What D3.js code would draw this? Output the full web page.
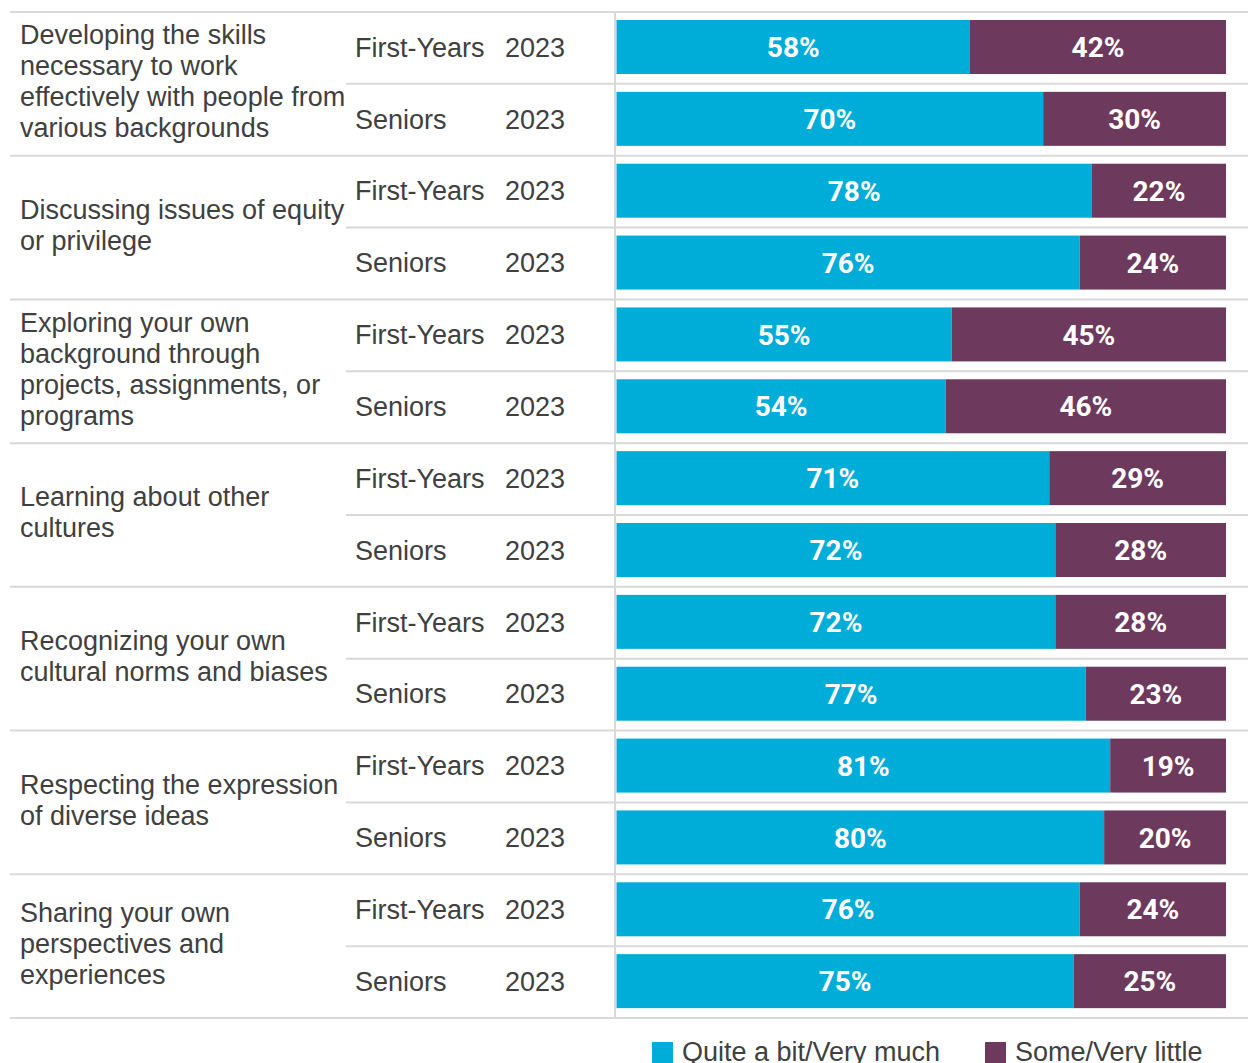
<!DOCTYPE html>
<html>
<head>
<meta charset="utf-8">
<script src="https://cdn.jsdelivr.net/npm/d3@7"></script>
<style>
  body { margin: 0; background: #fff; }
  svg { display: block; }
</style>
</head>
<body>
<svg id="chart"></svg>
<script>
var WIDTH = 1248;
var HEIGHT = 1063;

// one entry per item, two rows each
var items = [
  ["Developing the skills", "necessary to work", "effectively with people from", "various backgrounds"],
  ["Discussing issues of equity", "or privilege"],
  ["Exploring your own", "background through", "projects, assignments, or", "programs"],
  ["Learning about other", "cultures"],
  ["Recognizing your own", "cultural norms and biases"],
  ["Respecting the expression", "of diverse ideas"],
  ["Sharing your own", "perspectives and", "experiences"]
];
var groups = ["First-Years", "Seniors"];
var years = ["2023", "2023"];
var quiteABit = [58, 70, 78, 76, 55, 54, 71, 72, 72, 77, 81, 80, 76, 75];
var someLittle = [42, 30, 22, 24, 45, 46, 29, 28, 28, 23, 19, 20, 24, 25];
var series = ["Quite a bit/Very much", "Some/Very little"];
var colors = ["#00acd8", "#6d3a5e"];

var svg = d3.select("#chart").attr("width", WIDTH).attr("height", HEIGHT);

var rows = d3.range(quiteABit.length);
var y = d3.scaleBand().domain(rows).range([12, 1018]);
var x = d3.scaleLinear().domain([0, 100]).range([616.5, 1226]);

var textColor = "#404040";
var lineColor = "#d9d9d9";
var FONT = "Liberation Sans, Arial, sans-serif";

// grid lines
var lines = svg.append("g");
rows.forEach(function(i) {
    lines.append("line")
        .attr("x1", i % 2 == 0 ? 10 : 346)
        .attr("x2", WIDTH)
        .attr("y1", y(i)).attr("y2", y(i))
        .attr("stroke", lineColor).attr("stroke-width", 2);
});
lines.append("line")
    .attr("x1", 10).attr("x2", WIDTH)
    .attr("y1", y.range()[1]).attr("y2", y.range()[1])
    .attr("stroke", lineColor).attr("stroke-width", 2);
lines.append("line")
    .attr("x1", 615).attr("x2", 615)
    .attr("y1", y.range()[0]).attr("y2", y.range()[1])
    .attr("stroke", lineColor).attr("stroke-width", 2);

// item labels
var lineH = 31;
items.forEach(function(lbl, g) {
    var mid = y(g * 2) + y.bandwidth() - 3;
    var top = mid - (lbl.length - 1) * lineH / 2;
    var t = svg.append("text")
        .attr("x", 20)
        .attr("font-family", FONT)
        .attr("font-size", 27)
        .attr("fill", textColor);
    lbl.forEach(function(s, k) {
        t.append("tspan").attr("x", 20).attr("y", top + k * lineH)
            .attr("dy", "0.36em").text(s);
    });
});

// group / year labels
rows.forEach(function(i) {
    var cy = y(i) + y.bandwidth() / 2 - 1;
    svg.append("text")
        .attr("x", 355).attr("y", cy).attr("dy", "0.36em")
        .attr("font-family", FONT)
        .attr("font-size", 27).attr("fill", textColor)
        .text(groups[i % 2]);
    svg.append("text")
        .attr("x", 505).attr("y", cy).attr("dy", "0.36em")
        .attr("font-family", FONT)
        .attr("font-size", 27).attr("fill", textColor)
        .text(years[i % 2]);
});

// stacked bars
var barPad = 8;
var barH = 54;
rows.forEach(function(i) {
    var segs = [[0, quiteABit[i]], [quiteABit[i], quiteABit[i] + someLittle[i]]];
    segs.forEach(function(s, k) {
        var by = y(i) + barPad;
        svg.append("rect")
            .attr("x", x(s[0])).attr("y", by)
            .attr("width", x(s[1]) - x(s[0])).attr("height", barH)
            .attr("fill", colors[k]);
        svg.append("text")
            .attr("x", (x(s[0]) + x(s[1])) / 2)
            .attr("y", by + barH / 2)
            .attr("dy", "0.36em")
            .attr("text-anchor", "middle")
            .attr("font-family", "Roboto, sans-serif")
            .attr("font-weight", "bold")
            .attr("font-size", 28)
            .attr("fill", "#fff")
            .text((s[1] - s[0]) + "%");
    });
});

// legend
var legendX = [652, 985];
series.forEach(function(s, k) {
    svg.append("rect")
        .attr("x", legendX[k]).attr("y", 1042)
        .attr("width", 21).attr("height", 22)
        .attr("fill", colors[k]);
    svg.append("text")
        .attr("x", legendX[k] + 30).attr("y", 1061)
        .attr("font-family", FONT)
        .attr("font-size", 27).attr("fill", textColor)
        .text(s);
});
</script>
</body>
</html>
